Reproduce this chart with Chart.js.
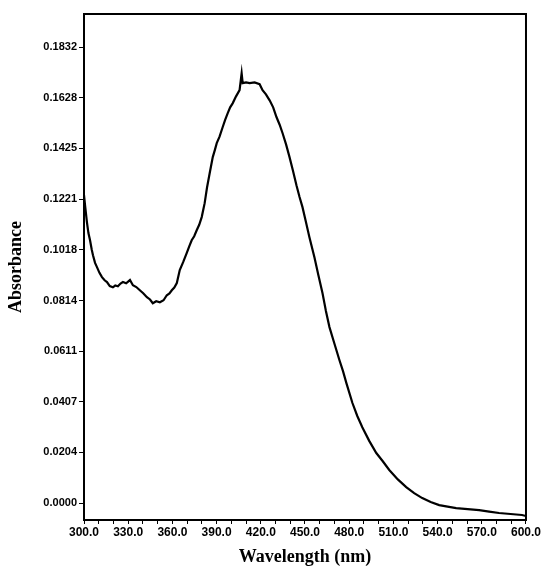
<!DOCTYPE html>
<html lang="en">
<head>
<meta charset="utf-8" />
<title>Absorbance spectrum</title>
<script src="https://cdn.jsdelivr.net/npm/chart.js@4.4.1/dist/chart.umd.min.js"></script>
<style>
  html, body { margin: 0; padding: 0; background: #ffffff; }
  #wrap { width: 542px; height: 568px; position: relative; }
</style>
</head>
<body>
<div id="wrap"><canvas id="spectrum" width="542" height="568"></canvas></div>
<script>
// values
const wavelength = [
  300.0, 300.7, 302.0, 303.0, 304.1, 305.2, 306.1, 307.5, 308.8, 310.5, 312.2, 314.0, 315.6, 317.5, 319.6,
  321.2, 323.0, 324.8, 326.4, 328.6, 331.2, 333.2, 335.5, 337.9, 340.2, 342.7, 344.8, 346.7, 349.0, 351.5,
  354.0, 356.2, 358.0, 359.6, 361.3, 363.0, 365.0, 367.3, 369.7, 371.5, 373.1, 374.8, 376.5, 378.2, 379.9,
  381.9, 383.5, 385.3, 387.4, 388.8, 390.1, 392.0, 394.1, 395.8, 397.5, 399.2, 400.9, 403.2, 405.6, 407.0,
  407.7, 410.0, 412.4, 415.8, 419.2, 421.2, 423.5, 426.0, 428.4, 430.7, 432.8, 434.8, 437.2, 439.5, 441.8,
  444.2, 446.3, 448.3, 450.6, 453.0, 456.4, 459.1, 461.9, 464.2, 466.6, 470.0, 473.4, 475.8, 478.1, 482.2,
  485.5, 488.9, 493.6, 498.4, 502.8, 507.2, 513.0, 518.7, 524.1, 529.6, 535.3, 541.1, 546.8, 552.6, 560.4,
  568.2, 575.0, 581.7, 589.5, 597.3, 600.0
];
const absorbance = [
  0.1237, 0.1197, 0.1128, 0.1085, 0.1056, 0.1020, 0.0996, 0.0965, 0.0948, 0.0925, 0.0908, 0.0895, 0.0888, 0.0872, 0.0867,
  0.0874, 0.0871, 0.0882, 0.0888, 0.0883, 0.0896, 0.0875, 0.0868, 0.0855, 0.0843, 0.0827, 0.0818, 0.0803, 0.0811, 0.0807,
  0.0815, 0.0835, 0.0842, 0.0855, 0.0866, 0.0884, 0.0936, 0.0968, 0.1004, 0.1032, 0.1056, 0.1072, 0.1096, 0.1118, 0.1149,
  0.1205, 0.1268, 0.1325, 0.1390, 0.1418, 0.1446, 0.1472, 0.1510, 0.1540, 0.1566, 0.1590, 0.1606, 0.1634, 0.1659, 0.1727,
  0.1687, 0.1690, 0.1687, 0.1690, 0.1683, 0.1659, 0.1642, 0.1618, 0.1590, 0.1550, 0.1520, 0.1486, 0.1440, 0.1390, 0.1336,
  0.1277, 0.1230, 0.1189, 0.1130, 0.1068, 0.0988, 0.0915, 0.0843, 0.0772, 0.0707, 0.0640, 0.0574, 0.0530, 0.0482, 0.0402,
  0.0350, 0.0305, 0.0250, 0.0201, 0.0168, 0.0133, 0.0095, 0.0064, 0.0040, 0.0020, 0.0004, -0.0008, -0.0014, -0.0020, -0.0024,
  -0.0028, -0.0034, -0.0040, -0.0044, -0.0048, -0.0052
];
const yTickValues = [0.0000, 0.0204, 0.0407, 0.0611, 0.0814, 0.1018, 0.1221, 0.1425, 0.1628, 0.1832];
const yTickLabels = ['0.0000', '0.0204', '0.0407', '0.0611', '0.0814', '0.1018', '0.1221', '0.1425', '0.1628', '0.1832'];
const xTickValues = [300, 330, 360, 390, 420, 450, 480, 510, 540, 570, 600];
const xTickLabels = ['300.0', '330.0', '360.0', '390.0', '420.0', '450.0', '480.0', '510.0', '540.0', '570.0', '600.0'];
const xMinorStep = 10;

const points = wavelength.map((w, i) => ({ x: w, y: absorbance[i] }));

// frame around the plot area (top and right sides too)
const frame = {
  id: 'frame',
  afterDraw(chart) {
    const { ctx, chartArea: a } = chart;
    ctx.save();
    ctx.strokeStyle = '#000';
    ctx.lineWidth = 2;
    ctx.strokeRect(a.left, a.top, a.right - a.left, a.bottom - a.top);
    ctx.restore();
  }
};

new Chart(document.getElementById('spectrum').getContext('2d'), {
  type: 'scatter',
  data: {
    datasets: [{
      data: points,
      showLine: true,
      borderColor: '#000',
      borderWidth: 2.2,
      pointRadius: 0,
      tension: 0
    }]
  },
  options: {
    responsive: false,
    animation: false,
    layout: { padding: { top: 14, right: 15, left: 0, bottom: 0 } },
    plugins: { legend: { display: false }, tooltip: { enabled: false } },
    scales: {
      x: {
        type: 'linear',
        min: 300,
        max: 600,
        afterBuildTicks(scale) {
          const t = [];
          for (let v = 300; v <= 600; v += xMinorStep) t.push({ value: v });
          scale.ticks = t;
        },
        afterFit(scale) { scale.height = 48; },
        ticks: {
          autoSkip: false,
          maxRotation: 0,
          padding: 1,
          color: '#000',
          font: { family: 'Liberation Sans', weight: 'bold', size: 12 },
          callback(v) {
            const i = xTickValues.indexOf(v);
            return i >= 0 ? xTickLabels[i] : '';
          }
        },
        grid: { drawOnChartArea: false, drawTicks: true, tickLength: 4, color: '#000', lineWidth: 1 },
        border: { display: true, color: '#000', width: 2 },
        title: {
          display: true,
          text: 'Wavelength (nm)',
          color: '#000',
          font: { family: 'Liberation Serif', weight: 'bold', size: 18 },
          padding: { top: 0, bottom: 0 }
        }
      },
      y: {
        type: 'linear',
        min: -0.0068,
        max: 0.1965,
        afterBuildTicks(scale) {
          scale.ticks = yTickValues.map(v => ({ value: v }));
        },
        afterFit(scale) { scale.width = 84; },
        ticks: {
          autoSkip: false,
          padding: 2,
          color: '#000',
          font: { family: 'Liberation Sans', weight: 'bold', size: 11 },
          callback(v) {
            const i = yTickValues.indexOf(v);
            return i >= 0 ? yTickLabels[i] : '';
          }
        },
        grid: { drawOnChartArea: false, drawTicks: true, tickLength: 5, color: '#000', lineWidth: 1 },
        border: { display: true, color: '#000', width: 2 },
        title: {
          display: true,
          text: 'Absorbance',
          color: '#000',
          font: { family: 'Liberation Serif', weight: 'bold', size: 18 },
          padding: { top: 6, bottom: 0 }
        }
      }
    }
  },
  plugins: [frame]
});
</script>
</body>
</html>
